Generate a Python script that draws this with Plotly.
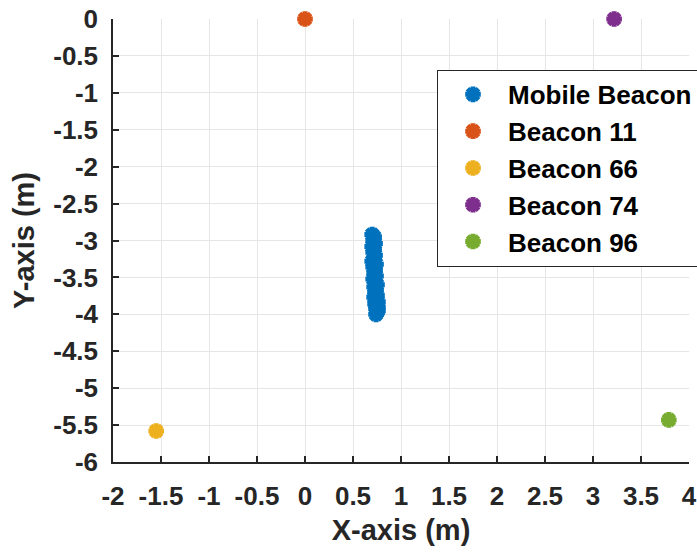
import plotly.graph_objects as go

# ---- data ----
mobile_x = [0.70, 0.72, 0.71, 0.73, 0.70, 0.72, 0.71, 0.73, 0.72, 0.70,
            0.74, 0.71, 0.73, 0.72, 0.74, 0.71, 0.73, 0.75, 0.72, 0.74,
            0.73, 0.75, 0.72, 0.74, 0.76, 0.73, 0.75, 0.74, 0.76, 0.75,
            0.74, 0.76]
mobile_y = [-2.92, -2.95, -3.00, -3.04, -3.08, -3.12, -3.16, -3.20, -3.25, -3.28,
            -3.32, -3.36, -3.40, -3.44, -3.48, -3.52, -3.56, -3.60, -3.63, -3.67,
            -3.70, -3.74, -3.77, -3.80, -3.83, -3.86, -3.89, -3.92, -3.95, -3.97,
            -4.00, -3.90]

beacon_names = ["Beacon 11", "Beacon 66", "Beacon 74", "Beacon 96"]
beacon_x = [0.0, -1.55, 3.22, 3.79]
beacon_y = [0.0, -5.58, 0.0, -5.43]

x_tickvals = [-2, -1.5, -1, -0.5, 0, 0.5, 1, 1.5, 2, 2.5, 3, 3.5, 4]
x_ticktext = ["-2", "-1.5", "-1", "-0.5", "0", "0.5", "1", "1.5", "2", "2.5", "3", "3.5", "4"]
y_tickvals = [0, -0.5, -1, -1.5, -2, -2.5, -3, -3.5, -4, -4.5, -5, -5.5, -6]
y_ticktext = ["0", "-0.5", "-1", "-1.5", "-2", "-2.5", "-3", "-3.5", "-4", "-4.5", "-5", "-5.5", "-6"]

colors = ["#0072BD", "#D95319", "#EDB120", "#7E2F8E", "#77AC30"]

FONT = "Liberation Sans, Arial, sans-serif"
TXT = "#262626"

fig = go.Figure()

def marker(c):
    return dict(symbol="asterisk-open", size=13, color=c, line=dict(color=c, width=5))

fig.add_trace(go.Scatter(x=mobile_x, y=mobile_y, mode="markers", name="<b>Mobile Beacon</b>",
                         marker=marker(colors[0]), legendgroup="g0", cliponaxis=False))
for i, (n, bx, by) in enumerate(zip(beacon_names, beacon_x, beacon_y)):
    fig.add_trace(go.Scatter(x=[bx], y=[by], mode="markers", name="<b>" + n + "</b>",
                             marker=marker(colors[i + 1]), legendgroup="g%d" % (i + 1),
                             cliponaxis=False))

axis_common = dict(
    showgrid=True, gridcolor="#e6e6e6", gridwidth=1,
    showline=True, linecolor=TXT, linewidth=1.5,
    ticks="inside", ticklen=6, tickwidth=1.5, tickcolor=TXT,
    zeroline=False, mirror=False, automargin=False,
    tickfont=dict(family=FONT, size=26, color=TXT, weight="bold"),
    tickmode="array",
)

fig.update_layout(
    width=697, height=554,
    paper_bgcolor="white", plot_bgcolor="white",
    margin=dict(l=113, r=8, t=19, b=92, autoexpand=False),
    font=dict(family=FONT, color=TXT),
    xaxis=dict(range=[-2, 4], tickvals=x_tickvals, ticktext=x_ticktext,
               title=dict(text="<b>X-axis (m)</b>", font=dict(family=FONT, size=29, color=TXT), standoff=10),
               ticklabelstandoff=10, **axis_common),
    yaxis=dict(range=[-6, 0], tickvals=y_tickvals, ticktext=y_ticktext,
               title=dict(text="<b>Y-axis (m)</b>", font=dict(family=FONT, size=29, color=TXT), standoff=10),
               ticklabelstandoff=8, **axis_common),
    legend=dict(x=0.5625, y=0.885, xanchor="left", yanchor="top",
                bgcolor="white", bordercolor="#262626", borderwidth=1,
                font=dict(family=FONT, size=26, color="black"),
                itemwidth=60, tracegroupgap=0, itemclick=False),
    showlegend=True,
)

fig.write_html("out.html", config={"displayModeBar": False},
               post_script="document.body.style.margin='0';document.body.style.overflow='hidden';")
